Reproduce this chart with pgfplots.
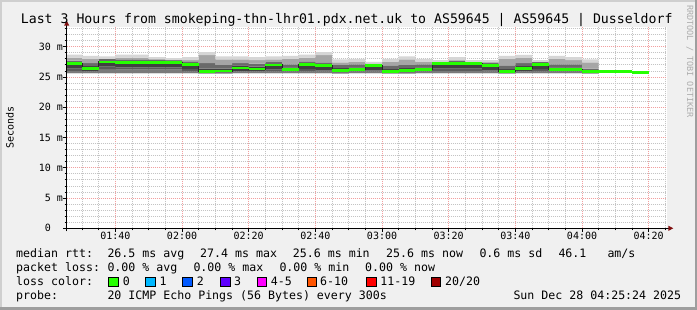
\documentclass[border=0pt]{standalone}
\usepackage{fontspec}
\setmainfont{DejaVu Sans Mono}
\usepackage{pgfplots}
\usepackage{pgfplotstable}
\pgfplotsset{compat=1.18}

\definecolor{bgc}{HTML}{F0F0F0}
\definecolor{shadea}{HTML}{CFCFCF}
\definecolor{shadeb}{HTML}{9E9E9E}
\definecolor{mgrid}{HTML}{F2A0A0}
\definecolor{ggrid}{HTML}{C4C4C4}
\definecolor{arrowc}{HTML}{801010}
\definecolor{sa}{HTML}{A0A0A0}
\definecolor{sb}{HTML}{7A7A7A}
\definecolor{sc}{HTML}{5A5A5A}
\definecolor{sd}{HTML}{404040}
\definecolor{se}{HTML}{6A6A6A}
\definecolor{sf}{HTML}{A6A6A6}
\definecolor{sg}{HTML}{D6D6D6}
\definecolor{lA}{HTML}{26FF00}
\definecolor{lB}{HTML}{00B8FF}
\definecolor{lC}{HTML}{0059FF}
\definecolor{lD}{HTML}{5E00FF}
\definecolor{lE}{HTML}{FF00FF}
\definecolor{lF}{HTML}{FF5500}
\definecolor{lG}{HTML}{FF0000}
\definecolor{lH}{HTML}{A00000}

\pgfplotstableread{
t mn p10 p25 p40 p60 p75 p90 mx
85.4 25.6 25.7 26.0 26.4 27.3 27.7 28.2 28.7
90 25.6 25.7 25.9 26.0 26.8 27.3 28.0 28.5
95 25.6 25.7 26.3 26.7 27.6 28.0 28.0 28.4
100 25.6 25.7 26.2 26.6 27.5 27.9 28.2 28.7
105 25.6 25.7 26.2 26.6 27.5 27.9 28.2 28.7
110 25.6 25.7 26.2 26.6 27.5 27.9 27.9 28.3
115 25.6 25.7 26.2 26.6 27.5 27.8 27.8 28.1
120 25.6 25.7 25.9 26.3 27.2 27.6 27.8 28.3
125 25.5 25.6 25.8 25.9 26.4 27.3 28.6 29.1
130 25.5 25.6 25.8 25.9 26.4 27.0 27.9 28.4
135 25.6 25.7 25.9 26.0 26.9 27.3 27.9 28.4
140 25.6 25.7 25.9 26.0 26.7 27.2 27.8 28.3
145 25.6 25.7 25.9 26.2 27.1 27.5 27.9 28.4
150 25.6 25.7 25.9 26.0 26.6 27.1 28.0 28.5
155 25.6 25.7 25.9 26.3 27.2 27.6 28.2 28.7
160 25.6 25.7 25.9 26.1 27.0 27.4 28.6 29.1
165 25.5 25.6 25.8 25.9 26.45 27.0 27.4 27.9
170 25.6 25.7 25.9 26.0 26.6 27.1 27.5 28.0
175 25.6 25.7 25.9 26.1 27.0 27.2 27.2 27.5
180 25.5 25.6 25.8 25.9 26.3 26.9 27.5 28.0
185 25.5 25.6 25.8 25.9 26.45 27.0 27.9 28.4
190 25.6 25.7 25.9 26.0 26.6 27.1 27.5 28.0
195 25.6 25.7 26.0 26.4 27.3 27.5 27.5 27.8
200 25.6 25.7 26.0 26.4 27.3 27.7 27.8 28.3
205 25.6 25.7 26.0 26.4 27.3 27.5 27.5 27.8
210 25.6 25.7 25.9 26.1 27.0 27.4 27.4 27.8
215 25.5 25.6 25.8 25.9 26.3 26.9 28.0 28.5
220 25.6 25.7 25.9 26.0 26.8 27.3 28.15 28.65
225 25.6 25.7 25.9 26.3 27.2 27.5 27.5 27.8
230 25.6 25.7 25.9 26.0 26.6 27.1 28.0 28.5
235 25.6 25.7 25.9 26.0 26.6 27.1 27.8 28.3
240 25.5 25.6 25.8 25.9 26.0 26.4 27.4 27.9
245 25.5 25.6 25.8 25.9 26.0 26.4 27.4 27.9
}\smoke

\pgfplotstableread{
t med
85.4 27.2
90 26.4
95 27.5
100 27.4
105 27.4
110 27.4
115 27.4
120 27.1
125 25.9
130 26.0
135 26.5
140 26.3
145 27.0
150 26.2
155 27.1
160 26.9
165 26.05
170 26.2
175 26.9
180 25.9
185 26.05
190 26.2
195 27.2
200 27.2
205 27.2
210 26.9
215 25.9
220 26.4
225 27.1
230 26.2
235 26.2
240 25.9
245 25.9
250 25.9
255 25.7
260 25.7
}\median

\newcommand\lgf{\fontsize{11.6}{13}\selectfont}
\newcommand\lgtxt[3]{\node[anchor=base west, inner sep=0pt, font=\lgf] at (#1,#2) {#3};}
\newcommand\lgbox[2]{\filldraw[fill=#2, draw=black, line width=0.9pt] (#1+0.5,23.2) rectangle (#1+10.2,32.8);}

\begin{document}
\begin{tikzpicture}[x=1pt,y=1pt]
\useasboundingbox (0,0) rectangle (697,310);
\fill[bgc] (0,0) rectangle (697,310);
\fill[shadea] (0,307.8) rectangle (697,310);
\fill[shadea] (0,0) rectangle (2.2,310);
\fill[shadeb] (0,0) rectangle (697,2.5);
\fill[shadeb] (694.5,0) rectangle (697,310);

\begin{axis}[
  at={(66.7pt,81.7pt)}, anchor=south west,
  scale only axis, width=600pt, height=201.3pt,
  xmin=85.4, xmax=265.4, ymin=0, ymax=33.26,
  axis background/.style={fill=white},
  axis line style={draw=none},
  xtick={100,120,...,260},
  xticklabels={01:40,02:00,02:20,02:40,03:00,03:20,03:40,04:00,04:20},
  minor xtick={90,95,105,110,115,125,130,135,145,150,155,165,170,175,185,190,195,205,210,215,225,230,235,245,250,255,265},
  ytick={0,5,...,30},
  yticklabels={0\hphantom{mm},5 m,10 m,15 m,20 m,25 m,30 m},
  minor ytick={1,2,3,4,6,7,8,9,11,12,13,14,16,17,18,19,21,22,23,24,26,27,28,29,31,32,33},
  xtick pos=bottom, ytick pos=left,
  tick align=outside,
  major tick length=3.5pt, minor tick length=2pt,
  tick style={black, line width=0.8pt},
  grid=both,
  major grid style={mgrid, dash pattern=on 1pt off 1pt, line width=0.8pt},
  minor grid style={ggrid, dash pattern=on 1pt off 1pt, line width=0.8pt},
  ticklabel style={font=\fontsize{10}{12}\selectfont},
  yticklabel style={anchor=east, inner sep=0pt},
  xticklabel style={anchor=north, inner sep=0pt},
]
\addplot[stack plots=y, draw=none, const plot mark left] table[x=t,y=mn]{\smoke};
\addplot[stack plots=y, draw=none, fill=sa, const plot mark left] table[x=t,y expr=\thisrow{p10}-\thisrow{mn}]{\smoke} \closedcycle;
\addplot[stack plots=y, draw=none, fill=sb, const plot mark left] table[x=t,y expr=\thisrow{p25}-\thisrow{p10}]{\smoke} \closedcycle;
\addplot[stack plots=y, draw=none, fill=sc, const plot mark left] table[x=t,y expr=\thisrow{p40}-\thisrow{p25}]{\smoke} \closedcycle;
\addplot[stack plots=y, draw=none, fill=sd, const plot mark left] table[x=t,y expr=\thisrow{p60}-\thisrow{p40}]{\smoke} \closedcycle;
\addplot[stack plots=y, draw=none, fill=se, const plot mark left] table[x=t,y expr=\thisrow{p75}-\thisrow{p60}]{\smoke} \closedcycle;
\addplot[stack plots=y, draw=none, fill=sf, const plot mark left] table[x=t,y expr=\thisrow{p90}-\thisrow{p75}]{\smoke} \closedcycle;
\addplot[stack plots=y, draw=none, fill=sg, const plot mark left] table[x=t,y expr=\thisrow{mx}-\thisrow{p90}]{\smoke} \closedcycle;
\addplot[stack plots=false, draw=black!85, line width=0.8pt, const plot mark left, mark=none] table[x=t,y=med]{\median};
\addplot[stack plots=false, draw=lA, line width=2.7pt, jump mark left, mark=none] table[x=t,y=med]{\median};
\end{axis}

% axis lines and arrows
\draw[black, line width=1pt] (63,81.7) -- (668.5,81.7);
\fill[arrowc] (673.3,81.7) -- (668.3,84.3) -- (668.3,79.1) -- cycle;
\draw[black, line width=1pt] (66.7,78.5) -- (66.7,284.5);
\fill[arrowc] (66.7,289.3) -- (64.1,284.3) -- (69.3,284.3) -- cycle;

% title
\node[anchor=base west, inner sep=0pt, font=\fontsize{13.2}{15}\selectfont] at (20.7,286.7) {Last 3 Hours from smokeping-thn-lhr01.pdx.net.uk to AS59645 | AS59645 | Dusseldorf};
% y label
\node[rotate=90, inner sep=0pt, font=\fontsize{10}{12}\selectfont] at (10,182.5) {Seconds};
% watermark
\node[rotate=-90, anchor=west, inner sep=0pt, text=black!32, font=\fontsize{8.5}{10}\selectfont] at (690,305) {RRDTOOL / TOBI OETIKER};

% legend
\lgtxt{16}{52.7}{median rtt:}
\lgtxt{107.3}{52.7}{26.5 ms avg}
\lgtxt{200}{52.7}{27.4 ms max}
\lgtxt{292.7}{52.7}{25.6 ms min}
\lgtxt{386}{52.7}{25.6 ms now}
\lgtxt{479.3}{52.7}{0.6 ms sd}
\lgtxt{558.3}{52.7}{46.1}
\lgtxt{607.3}{52.7}{am/s}

\lgtxt{16}{38.3}{packet loss:}
\lgtxt{107.3}{38.3}{0.00 \% avg}
\lgtxt{193.3}{38.3}{0.00 \% max}
\lgtxt{279.3}{38.3}{0.00 \% min}
\lgtxt{365}{38.3}{0.00 \% now}

\lgtxt{16}{24.3}{loss color:}
\lgbox{108.3}{lA}\lgtxt{122.6}{24.3}{0}
\lgbox{145}{lB}\lgtxt{159.3}{24.3}{1}
\lgbox{182.3}{lC}\lgtxt{196.6}{24.3}{2}
\lgbox{220}{lD}\lgtxt{234}{24.3}{3}
\lgbox{256.7}{lE}\lgtxt{270.7}{24.3}{4-5}
\lgbox{306.7}{lF}\lgtxt{320}{24.3}{6-10}
\lgbox{366}{lG}\lgtxt{380.2}{24.3}{11-19}
\lgbox{430.7}{lH}\lgtxt{445}{24.3}{20/20}

\lgtxt{16}{10}{probe:}
\lgtxt{107.3}{10}{20 ICMP Echo Pings (56 Bytes) every 300s}
\lgtxt{513.3}{10}{Sun Dec 28 04:25:24 2025}
\end{tikzpicture}
\end{document}
